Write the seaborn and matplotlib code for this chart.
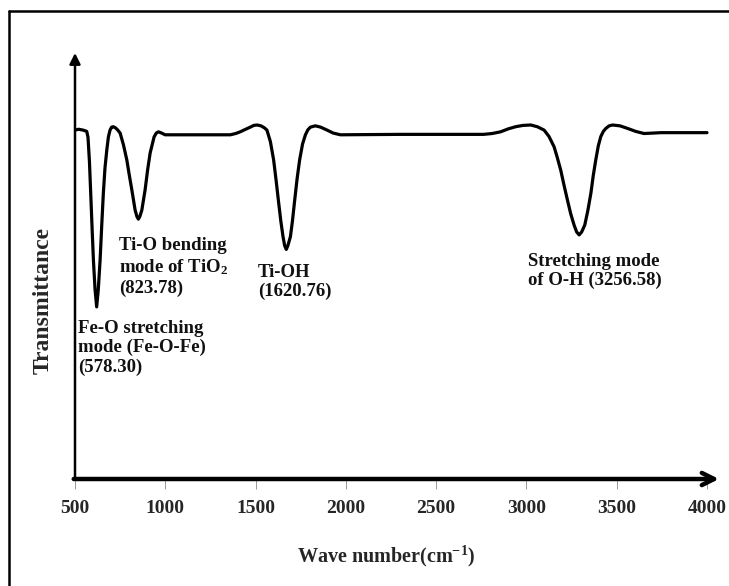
import matplotlib
matplotlib.use("Agg")
import matplotlib.pyplot as plt
import seaborn as sns
import pandas as pd

# ---- data ----
wavenumber = [500, 520, 545, 565, 572, 580, 587, 595, 602, 611, 620, 629, 639, 648,
              657, 666, 676, 685, 694, 703, 712, 722, 735, 750, 768, 787, 800, 815,
              833, 843, 851, 859, 870, 888, 902, 916, 938, 950, 962, 980, 999, 1027,
              1193, 1360, 1390, 1415, 1445, 1471, 1490, 1508, 1530, 1550, 1563, 1582,
              1600, 1614, 1628, 1640, 1652, 1661, 1670, 1679, 1693, 1704, 1715, 1730,
              1744, 1760, 1776, 1790, 1804, 1831, 1860, 1896, 1930, 1970, 2303, 2763,
              2810, 2857, 2900, 2941, 2980, 3024, 3060, 3098, 3125, 3153, 3170, 3190,
              3208, 3227, 3245, 3264, 3278, 3292, 3306, 3323, 3340, 3357, 3370, 3384,
              3398, 3412, 3426, 3440, 3458, 3477, 3518, 3560, 3605, 3651, 3700, 3745,
              4000]
transmittance = [81.9, 82.1, 81.9, 81.6, 80.2, 74.5, 67.1, 58.5, 51.4, 44.5, 40.4, 44.5, 51.4, 59.5,
                 67.1, 73.0, 77.2, 80.3, 81.9, 82.6, 82.7, 82.5, 82.0, 81.2, 78.5, 74.9, 71.5, 67.8,
                 63.1, 61.6, 61.0, 61.6, 63.1, 67.8, 72.5, 76.5, 80.3, 81.2, 81.5, 81.2, 80.8, 80.8,
                 80.8, 80.8, 81.1, 81.5, 82.1, 82.6, 83.0, 83.1, 82.9, 82.4, 81.9, 79.2,
                 74.9, 70.0, 64.8, 60.5, 56.9, 54.8, 53.9, 54.8, 56.9, 60.5, 64.8, 70.5,
                 74.9, 78.6, 80.8, 82.0, 82.6, 82.9, 82.6, 81.9, 81.2, 80.8, 80.9, 80.9,
                 81.1, 81.5, 82.2, 82.7, 83.0, 83.1, 82.7, 81.9, 80.4, 78.0, 75.6, 72.5,
                 69.0, 65.5, 62.3, 59.6, 58.0, 57.3, 58.0, 59.6, 63.0, 67.1, 71.2, 74.9,
                 78.2, 80.4, 81.6, 82.3, 82.9, 83.1, 82.9, 82.3, 81.6, 81.1, 81.2, 81.3,
                 81.3]
xticks = [500, 1000, 1500, 2000, 2500, 3000, 3500, 4000]
annotations = ["Ti-O bending\nmode of TiO$_2$\n(823.78)",
               "Ti-OH\n(1620.76)",
               "Fe-O stretching\nmode (Fe-O-Fe)\n(578.30)",
               "Stretching mode\nof O-H (3256.58)"]

sns.set_theme(style="white")
plt.rcParams['font.family'] = ['Liberation Serif', 'DejaVu Serif']
plt.rcParams['font.weight'] = 'bold'
plt.rcParams['mathtext.fontset'] = 'custom'
plt.rcParams['mathtext.rm'] = 'Liberation Serif:bold'
plt.rcParams['mathtext.it'] = 'Liberation Serif:bold:italic'
plt.rcParams['mathtext.bf'] = 'Liberation Serif:bold'
plt.rcParams['mathtext.default'] = 'rm'

W, H = 729, 586
fig = plt.figure(figsize=(W / 100, H / 100), dpi=100)

def fx(px):
    return px / W

def fy(py):
    return 1 - py / H

ax = fig.add_axes([fx(75), fy(479), fx(719) - fx(75), fy(53) - fy(479)])
df = pd.DataFrame({"wn": wavenumber, "T": transmittance})
sns.lineplot(data=df, x="wn", y="T", ax=ax, color="black", linewidth=2.3,
             sort=False, estimator=None)
ax.lines[0].set_solid_joinstyle('round')
x_right = 500 + (719 - 75) * (3500 / (707 - 75))
ax.set_xlim(500, x_right)
ax.set_ylim(0, 100)
for s in ax.spines.values():
    s.set_visible(False)
ax.set_yticks([])
ax.set_xticks(xticks)
ax.set_xticklabels([str(t) for t in xticks])
ax.tick_params(axis='x', direction='out', length=7, width=0.6, color='#888888',
               pad=8, labelsize=14, bottom=True)
for lab in ax.get_xticklabels():
    lab.set_fontweight('bold')
ax.set_xlabel("")
ax.set_ylabel("")

# axes arrows
ax.annotate("", xy=(1.0, 0), xytext=(-0.002, 0), xycoords='axes fraction',
            arrowprops=dict(arrowstyle='->', lw=3.2, color='black',
                            mutation_scale=22, shrinkA=0, shrinkB=0))
ax.annotate("", xy=(0, 1.0), xytext=(0, 0), xycoords='axes fraction',
            arrowprops=dict(arrowstyle='-|>', lw=1.8, color='black',
                            mutation_scale=16, shrinkA=0, shrinkB=0))

# annotations
tkw = dict(fontsize=13.5, fontweight='bold', ha='left', va='center',
           linespacing=1.2, color='#111111')
fig.text(fx(119), fy(267), annotations[0], **tkw)
fig.text(fx(258), fy(282), annotations[1], **tkw)
fig.text(fx(78), fy(348), annotations[2], **tkw)
fig.text(fx(528), fy(271), annotations[3], **tkw)

# axis titles
fig.text(fx(386), fy(556), "Wave number(cm$^{-1}$)", fontsize=14.5,
         fontweight='bold', ha='center', va='center')
fig.text(fx(43), fy(301), "Transmittance", fontsize=17, fontweight='bold',
         ha='center', va='center', rotation=90)

# frame (left and top edges visible)
fig.add_artist(plt.Line2D([fx(9), fx(9)], [fy(11), 0], color='black', lw=1.8,
                          transform=fig.transFigure))
fig.add_artist(plt.Line2D([fx(9), 1.0], [fy(11), fy(11)], color='black', lw=1.8,
                          transform=fig.transFigure))

fig.savefig("out.png", dpi=100)
